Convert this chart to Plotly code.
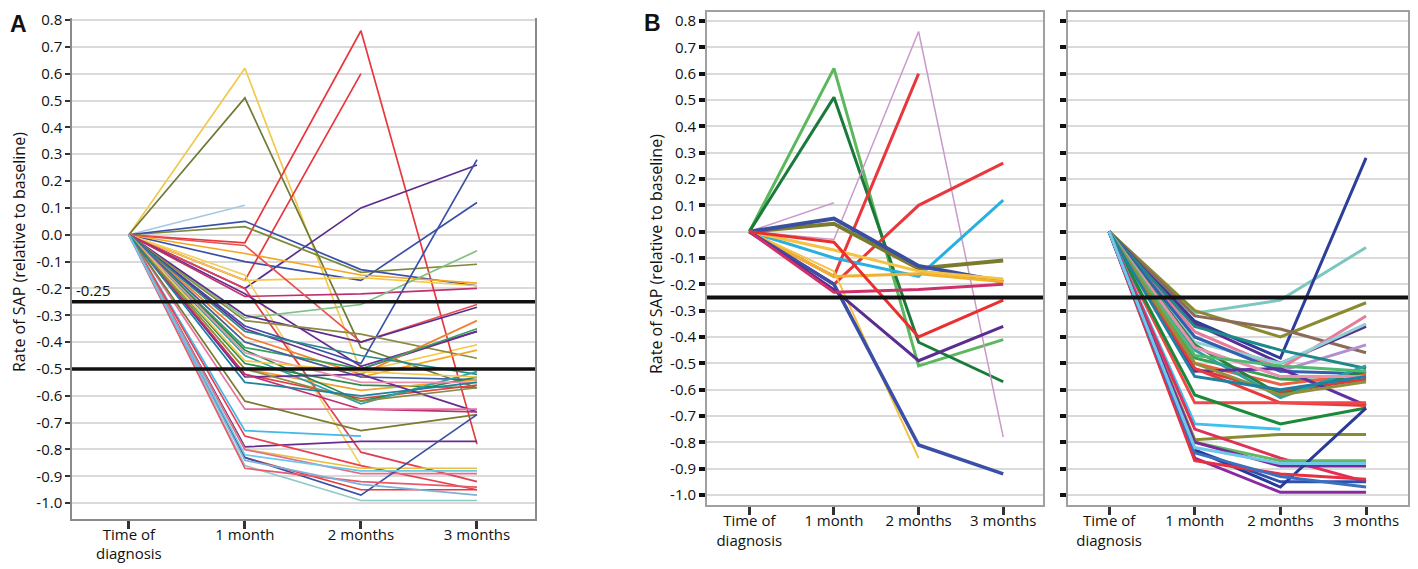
import plotly.graph_objects as go

# ---------------- data ----------------
time_points = [0, 1, 2, 3]
time_labels = ["Time of<br>diagnosis", "1 month", "2 months", "3 months"]
y_ticks = [0.8, 0.7, 0.6, 0.5, 0.4, 0.3, 0.2, 0.1, 0.0, -0.1, -0.2, -0.3, -0.4,
           -0.5, -0.6, -0.7, -0.8, -0.9, -1.0]
y_tick_text = ["0.8", "0.7", "0.6", "0.5", "0.4", "0.3", "0.2", "0.1", "0.0", "-0.1",
               "-0.2", "-0.3", "-0.4", "-0.5", "-0.6", "-0.7", "-0.8", "-0.9", "-1.0"]
thresholds_a = [-0.25, -0.5]
threshold_b = -0.25

# patients with 1-month rate above the -0.25 threshold (panel B, left)
group_left = [
    [0, 0.62, -0.51, -0.41],
    [0, 0.51, -0.42, -0.57],
    [0, -0.03, 0.76, -0.78],
    [0, 0.11, None, None],
    [0, -0.17, 0.60, None],
    [0, -0.20, 0.10, 0.26],
    [0, -0.10, -0.17, 0.12],
    [0, 0.03, -0.14, -0.11],
    [0, 0.05, -0.13, -0.19],
    [0, -0.07, -0.15, -0.18],
    [0, -0.17, -0.16, -0.19],
    [0, -0.15, -0.86, None],
    [0, -0.20, -0.81, -0.92],
    [0, -0.22, -0.49, -0.36],
    [0, -0.23, -0.22, -0.20],
    [0, -0.04, -0.40, -0.26],
]
# patients below the threshold at 1 month (panel B, right)
group_right = [
    [0, -0.31, -0.26, -0.06],
    [0, -0.34, -0.48, 0.28],
    [0, -0.30, -0.40, -0.27],
    [0, -0.32, -0.37, -0.46],
    [0, -0.35, -0.50, -0.36],
    [0, -0.40, -0.53, -0.43],
    [0, -0.38, -0.52, -0.32],
    [0, -0.42, -0.50, -0.35],
    [0, -0.36, -0.45, -0.52],
    [0, -0.40, -0.53, -0.54],
    [0, -0.48, -0.56, -0.57],
    [0, -0.52, -0.61, -0.56],
    [0, -0.50, -0.58, -0.54],
    [0, -0.43, -0.62, -0.53],
    [0, -0.45, -0.63, -0.51],
    [0, -0.53, -0.52, -0.66],
    [0, -0.52, -0.65, -0.66],
    [0, -0.65, -0.65, -0.65],
    [0, -0.62, -0.73, -0.67],
    [0, -0.73, -0.75, None],
    [0, -0.79, -0.77, -0.77],
    [0, -0.75, -0.86, -0.95],
    [0, -0.80, -0.87, -0.87],
    [0, -0.80, -0.89, -0.89],
    [0, -0.86, -0.99, -0.99],
    [0, -0.83, -0.95, -0.95],
    [0, -0.83, -0.97, -0.67],
    [0, -0.87, -0.92, -0.94],
    [0, -0.84, -0.93, -0.97],
    [0, -0.44, -0.55, -0.55],
    [0, -0.47, -0.51, -0.53],
    [0, -0.50, -0.62, -0.57],
    [0, -0.55, -0.60, -0.55],
    [0, -0.82, -0.88, -0.88],
]

# ---------------- styles ----------------
colors_left_b = ["#5cb85c", "#1a7a3a", "#c99ac9", "#c99ac9", "#e8383d", "#e8383d",
                 "#2ab0e0", "#7b7b2e", "#3a4fa0", "#f5c242", "#f0b030", "#f5c242",
                 "#3a4fa8", "#5a2d91", "#d0306a", "#e83030"]
widths_left_b = [3, 3, 1.5, 1.5, 3, 3, 3, 4, 4, 3, 3, 2, 3.5, 3, 3, 3]
colors_right_b = ["#7cc8c0", "#2c3e9a", "#8a8a30", "#8c6a5a", "#5a2d91", "#b090d0",
                  "#e87a9a", "#90d0d0", "#208888", "#3060b0", "#3aa050", "#e03838",
                  "#f06040", "#2a8040", "#30a0a0", "#6030a0", "#e83a3a", "#f04848",
                  "#1a8a3a", "#40c0f0", "#8a8a30", "#e0305a", "#60b860", "#7a2a9a",
                  "#8a2aa0", "#3050b0", "#2a3a9a", "#e83040", "#3a70c0", "#e890b0",
                  "#50b870", "#909040", "#2080a0", "#70c8e8"]
colors_a = ["#f2c94c", "#6f7a35", "#e8383d", "#a8c8e0", "#e8383d", "#5b2c8f",
            "#3a50a8", "#7a8a3a", "#3a50a8", "#f5a623", "#f2c94c", "#f2d060",
            "#e04050", "#6a2c91", "#c0306f", "#e85050",
            "#80c080", "#3a50a8", "#5b2c8f", "#8a8a40", "#6a2c91", "#f5a623",
            "#f08030", "#3aa060", "#2a8a8a", "#4060b0", "#2a9050", "#e04040",
            "#f0a030", "#1f8a4c", "#30a0a0", "#6a2c91", "#c03070", "#e870a0",
            "#7a7a30", "#40b8e8", "#6a2c91", "#e84050", "#e8c040", "#e07090",
            "#90c8c8", "#e83a3a", "#3a4fa0", "#e85a6a", "#80b0d8", "#e890b0",
            "#f0c850", "#8a8a40", "#2080a0", "#6ac8e8"]

# the page body has an 8px default margin: size the figure to fill the rest
OFF = 8
FW, FH = 1418 - OFF, 569 - OFF
FONT = "Open Sans"


def px(x):
    return (x - OFF) / FW


def py(y):
    return 1 - (y - OFF) / FH


fig = go.Figure()

# Panel A: all patients
for vals, c in zip(group_left + group_right, colors_a):
    fig.add_trace(go.Scatter(x=time_points, y=vals, mode="lines",
                             line=dict(color=c, width=1.7),
                             xaxis="x", yaxis="y", showlegend=False, hoverinfo="skip"))
# Panel B left
for vals, c, w in zip(group_left, colors_left_b, widths_left_b):
    fig.add_trace(go.Scatter(x=time_points, y=vals, mode="lines",
                             line=dict(color=c, width=w),
                             xaxis="x2", yaxis="y2", showlegend=False, hoverinfo="skip"))
# Panel B right
for vals, c in zip(group_right, colors_right_b):
    fig.add_trace(go.Scatter(x=time_points, y=vals, mode="lines",
                             line=dict(color=c, width=3),
                             xaxis="x3", yaxis="y3", showlegend=False, hoverinfo="skip"))

tickfont = dict(family=FONT, size=15, color="#111")


def xax(domain, rng, anchor, mirror, linecolor, linewidth):
    return dict(domain=domain, range=rng, anchor=anchor, tickvals=time_points,
                ticktext=time_labels, ticks="outside", ticklen=8, tickwidth=2.5,
                tickcolor="#333", showline=True, linecolor=linecolor,
                linewidth=linewidth, mirror=mirror, showgrid=False, zeroline=False,
                tickfont=tickfont, automargin=False, fixedrange=True,
                ticklabelstandoff=-7)


def yax(domain, rng, anchor, labels, ticklen, tickwidth, tickcolor, linecolor, linewidth):
    return dict(domain=domain, range=rng, anchor=anchor, tickvals=y_ticks,
                ticktext=y_tick_text, showticklabels=labels, ticks="outside",
                ticklen=ticklen, tickwidth=tickwidth, tickcolor=tickcolor,
                showline=True, linecolor=linecolor, linewidth=linewidth, mirror=True,
                showgrid=True, gridcolor="#dadada", gridwidth=1.5, zeroline=False,
                tickfont=tickfont, automargin=False, fixedrange=True,
                ticklabeloverflow="allow")


dom_a_x = [px(72), px(535)]
dom_a_y = [py(519), py(18)]
dom_bl_x = [px(707), px(1043)]
dom_br_x = [px(1068), px(1408)]
dom_b_y = [py(505), py(12)]

fig.update_layout(
    width=FW, height=FH, margin=dict(l=0, r=0, t=0, b=0),
    paper_bgcolor="white", plot_bgcolor="white",
    xaxis=xax(dom_a_x, [-0.49, 3.5], "y", False, "#8a8a8a", 1.5),
    yaxis=yax(dom_a_y, [-1.059, 0.8074], "x", True, 5, 2, "#333", "#8a8a8a", 1.5),
    xaxis2=xax(dom_bl_x, [-0.50, 3.47], "y2", True, "#a0a0a0", 2),
    yaxis2=yax(dom_b_y, [-1.038, 0.834], "x2", True, 6, 3.5, "#111", "#a0a0a0", 2),
    xaxis3=xax(dom_br_x, [-0.48, 3.49], "y3", True, "#a0a0a0", 2),
    yaxis3=yax(dom_b_y, [-1.038, 0.834], "x3", False, 6, 3.5, "#111", "#a0a0a0", 2),
)

shapes = []
for t in thresholds_a:
    shapes.append(dict(type="line", xref="x domain", yref="y", x0=0, x1=1, y0=t, y1=t,
                       line=dict(color="#111", width=3.5)))
for xr, yr in [("x2 domain", "y2"), ("x3 domain", "y3")]:
    shapes.append(dict(type="line", xref=xr, yref=yr, x0=0, x1=1, y0=threshold_b,
                       y1=threshold_b, line=dict(color="#111", width=4)))
fig.update_layout(shapes=shapes)

ann = [
    dict(text="<b>A</b>", x=px(8), y=py(24), xref="paper", yref="paper",
         xanchor="left", yanchor="middle", showarrow=False,
         font=dict(family="Liberation Sans", size=23, color="#111")),
    dict(text="<b>B</b>", x=px(642), y=py(23), xref="paper", yref="paper",
         xanchor="left", yanchor="middle", showarrow=False,
         font=dict(family="Liberation Sans", size=23, color="#111")),
    dict(text="Rate of SAP (relative to baseline)", x=px(19), y=py(252),
         xref="paper", yref="paper", xanchor="center", yanchor="middle",
         textangle=-90, showarrow=False, font=dict(family=FONT, size=16, color="#111")),
    dict(text="Rate of SAP (relative to baseline)", x=px(656), y=py(254),
         xref="paper", yref="paper", xanchor="center", yanchor="middle",
         textangle=-90, showarrow=False, font=dict(family=FONT, size=16, color="#111")),
    dict(text="-0.25", x=px(74), y=py(290), xref="paper", yref="paper",
         xanchor="left", yanchor="middle", showarrow=False,
         font=dict(family=FONT, size=15, color="#111")),
]
fig.update_layout(annotations=ann)

fig.write_html("out.html")
